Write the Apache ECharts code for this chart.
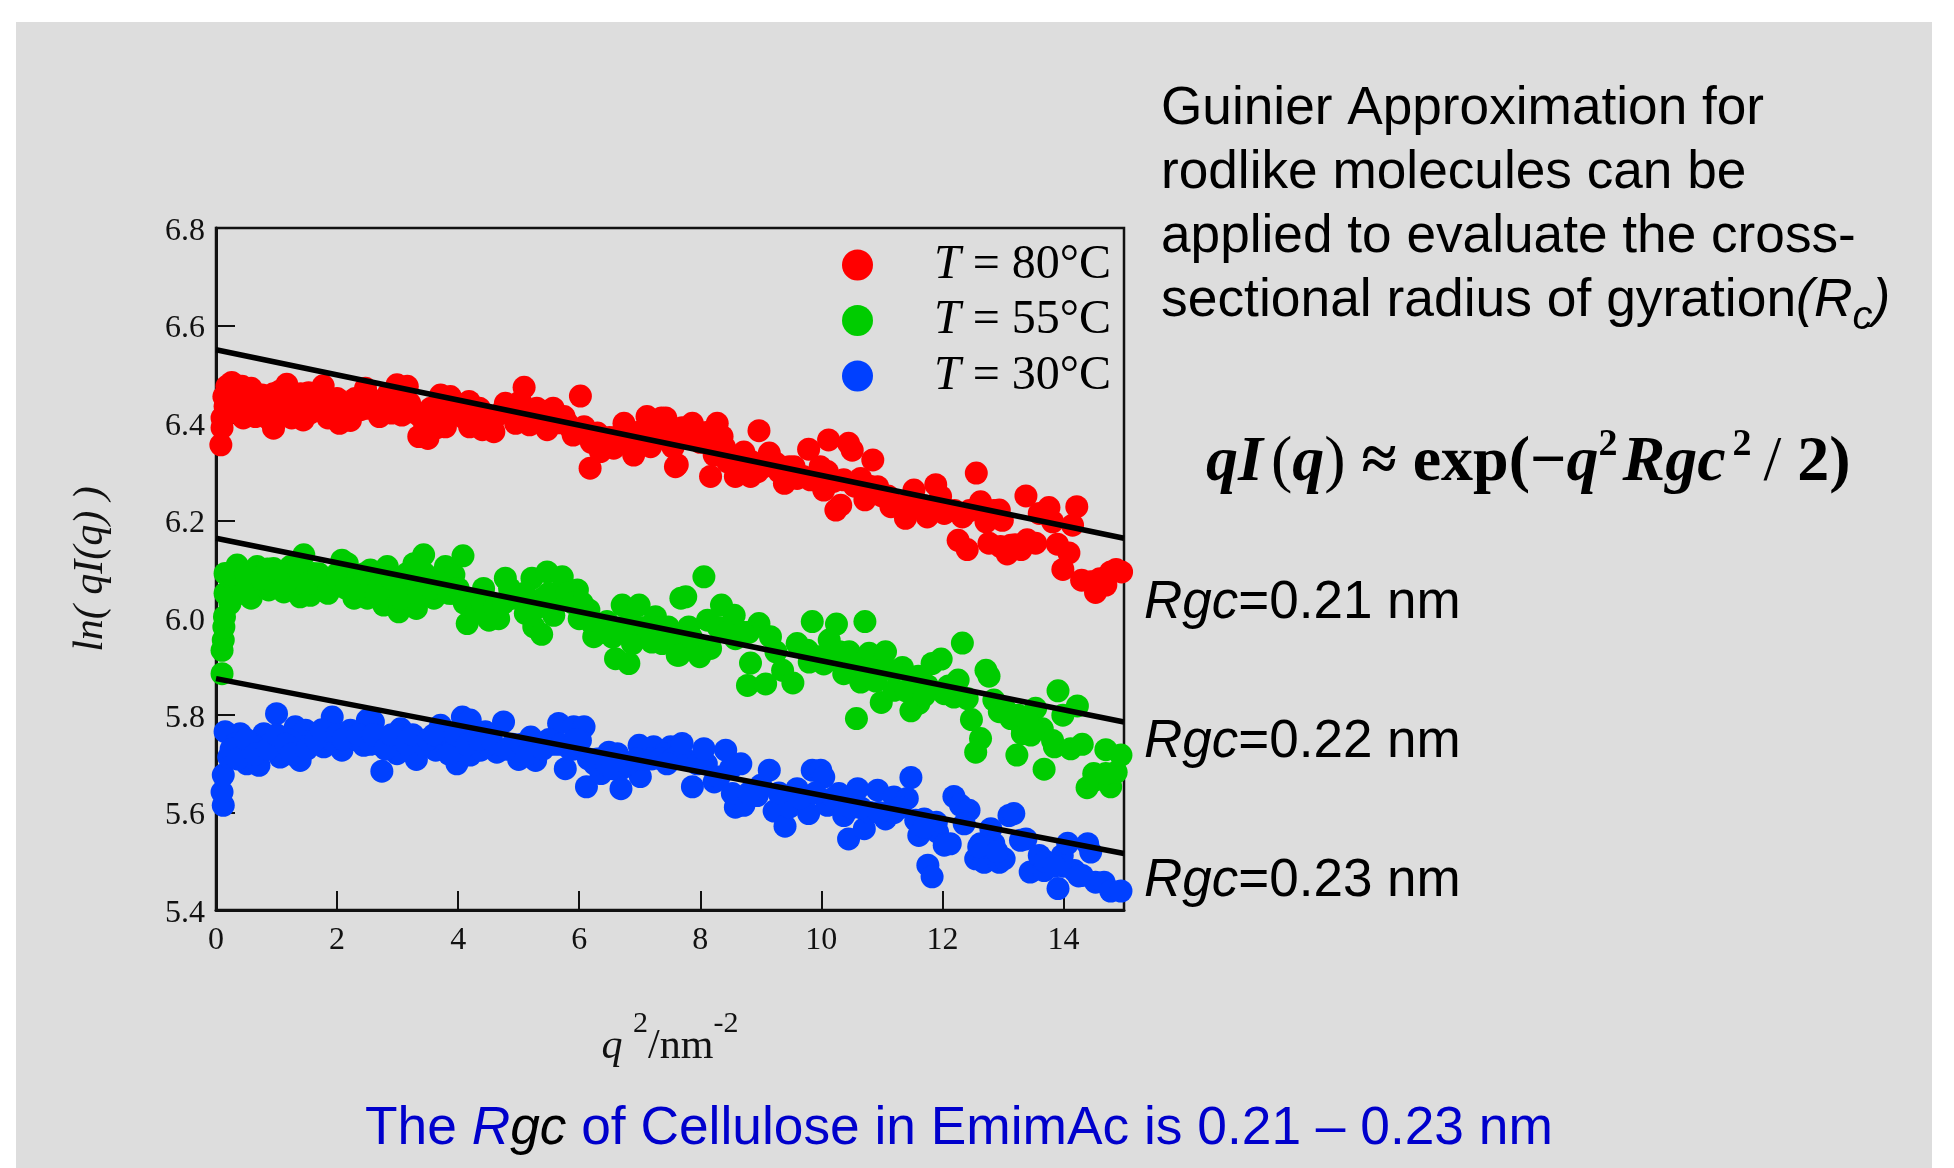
<!DOCTYPE html>
<html>
<head>
<meta charset="utf-8">
<style>html,body{margin:0;padding:0;background:#fff}#c{width:1954px;height:1168px}</style>
<script src="https://cdn.jsdelivr.net/npm/echarts@6/dist/echarts.min.js"></script>
</head>
<body>
<div id="c"></div>
<script>
const xTicks = [0,2,4,6,8,10,12,14];
const yTicks = [5.4,5.6,5.8,6.0,6.2,6.4,6.6,6.8];
const legendNames = ['T = 80°C','T = 55°C','T = 30°C'];
const red80 = [[.08,6.355],[.1,6.39],[.1,6.41],[.13,6.413],[.15,6.434],[.13,6.454],[.18,6.475],[.26,6.483],[.43,6.475],[.58,6.471],[.76,6.457],[.37,6.427],[.65,6.413],[.95,6.389],[1.17,6.479],[1.05,6.465],[1.44,6.406],[1.77,6.476],[1.53,6.462],[2.04,6.399],[2.22,6.405],[2.47,6.471],[2.39,6.427],[2.7,6.413],[2.99,6.478],[3.16,6.475],[3.07,6.416],[3.35,6.372],[3.5,6.368],[3.71,6.457],[3.87,6.454],[3.79,6.392],[4.18,6.444],[4.19,6.392],[4.4,6.386],[4.59,6.382],[4.78,6.44],[5.09,6.473],[5.03,6.444],[4.95,6.399],[5.18,6.396],[5.47,6.386],[5.57,6.43],[5.75,6.413],[6.02,6.455],[5.9,6.375],[6.08,6.392],[6.18,6.307],[6.3,6.379],[6.35,6.341],[6.57,6.348],[6.74,6.399],[6.9,6.334],[7.12,6.413],[7.18,6.351],[7.36,6.41],[7.62,6.314],
[.3,6.45],[.5,6.43],[.8,6.44],[1.0,6.42],[1.3,6.44],[1.6,6.43],[1.9,6.43],[2.2,6.44],[2.5,6.43],[2.8,6.44],[3.1,6.44],[3.4,6.41],[3.6,6.41],[4.0,6.42],[4.3,6.41],[4.6,6.41],[4.9,6.42],[5.2,6.41],[5.5,6.41],[5.8,6.4],[6.5,6.37],[6.8,6.38],[7.0,6.37],[7.3,6.38],[7.5,6.36],[7.8,6.37],[8.0,6.36],
[.25,6.46],[.45,6.41],[.55,6.45],[.85,6.41],[.95,6.46],[1.1,6.44],[1.25,6.41],[1.4,6.46],[1.55,6.42],[1.7,6.45],[1.85,6.41],[2.0,6.45],[2.1,6.42],[2.3,6.45],[2.55,6.45],[2.65,6.44],[2.85,6.46],[2.9,6.42],[3.2,6.44],[3.3,6.42],[3.45,6.39],[3.55,6.43],[3.65,6.39],[3.8,6.42],[3.95,6.44],[4.1,6.41],[4.35,6.43],[4.5,6.4],[4.7,6.42],[4.85,6.43],[5.1,6.42],[5.3,6.43],[5.4,6.41],[5.65,6.4],[5.85,6.39],[6.0,6.38],[6.2,6.36],[6.45,6.35],[6.6,6.37],[6.75,6.37],[6.95,6.38],[7.1,6.36],[7.25,6.39],[7.4,6.38],[7.55,6.35],[7.7,6.39],[7.9,6.37],[8.1,6.38],[8.2,6.36],[8.4,6.35],
[7.43,6.41],[7.59,6.31],[7.67,6.372],[7.87,6.399],[8.17,6.29],[8.28,6.399],[8.36,6.372],[8.23,6.334],[8.58,6.29],[8.83,6.29],[8.72,6.34],[8.97,6.384],[9.14,6.338],[9.25,6.317],[9.39,6.276],[9.47,6.31],[9.6,6.286],[9.79,6.346],[9.98,6.31],[9.82,6.283],[10.12,6.365],[10.45,6.358],[10.51,6.344],[10.04,6.262],[10.24,6.221],[10.32,6.231],[10.37,6.283],[10.65,6.286],[10.85,6.324],[10.72,6.242],[10.93,6.269],[11.15,6.228],[11.39,6.204],[11.53,6.262],[11.75,6.207],[11.89,6.273],[11.97,6.249],[12.03,6.214],[12.33,6.207],[12.56,6.297],[12.63,6.238],[12.72,6.197],[12.94,6.221],[12.99,6.2],[13.38,6.25],[13.6,6.214],[13.76,6.226],[13.82,6.197],[14.15,6.19],[14.22,6.228],
[8.6,6.33],[8.95,6.3],[9.3,6.3],[10.2,6.28],[11.0,6.25],[11.3,6.23],[11.7,6.23],[12.2,6.22],[8.45,6.32],[8.85,6.32],[9.05,6.31],[9.55,6.31],[9.7,6.29],[10.1,6.3],[10.55,6.27],[10.8,6.27],[11.1,6.25],[11.45,6.22],[11.9,6.23],[12.45,6.22],[12.85,6.22],
[12.26,6.159],[12.41,6.14],[12.77,6.153],[13.07,6.131],[12.96,6.146],[13.3,6.14],[13.54,6.153],[13.9,6.151],[14.09,6.133],[13.99,6.099],[14.3,6.077],[14.45,6.074],[14.53,6.052],[14.7,6.067],[14.78,6.094],[14.87,6.099],[14.96,6.094],[13.4,6.16],[13.13,6.149],[13.2,6.15],[14.6,6.08]];
const green55 = [[.1,5.885],[.1,5.933],[.12,5.954],[.13,5.981],[.14,6.002],[.23,6.029],[.15,6.05],[.15,6.091],[.35,6.108],[.29,6.077],[.58,6.04],[.68,6.105],[.95,6.101],[.87,6.057],[1.12,6.053],[1.23,6.105],[1.45,6.129],[1.39,6.043],[1.56,6.046],[1.61,6.091],[1.95,6.064],[2.08,6.118],[2.17,6.111],[2.28,6.04],[2.5,6.04],[2.55,6.098],[2.83,6.105],[2.77,6.026],[3.02,6.012],[2.94,6.057],[3.27,6.111],[3.43,6.129],[3.31,6.019],[3.21,6.064],[3.6,6.04],[3.79,6.105],[3.93,6.088],[4.08,6.127],[4.15,5.988],[4.51,5.995],[4.67,5.998],[4.78,6.081],[4.42,6.06],[5.22,6.081],[5.47,6.094],[5.72,6.084],[5.11,6.009],[5.25,5.981],[5.38,5.966],[5.58,6.005],[5.97,6.057],[6,5.998],[6.16,6.016],[6.24,5.961],[6.46,5.992],[6.6,5.916],[6.82,5.906],[6.71,6.026],[6.99,6.026],[6.88,5.947],[7.26,6.002],[7.37,5.947],[7.47,5.981],[7.62,5.923],[7.68,6.04],
[.4,6.07],[.7,6.07],[1.0,6.07],[1.3,6.08],[1.7,6.07],[2.0,6.09],[2.3,6.08],[2.6,6.06],[3.0,6.08],[3.5,6.08],[3.9,6.05],[4.2,6.03],[4.5,6.03],[4.9,6.04],[5.1,6.05],[5.4,6.04],[5.7,6.04],[6.2,5.99],[6.7,5.98],[7.0,5.98],[7.3,5.98],
[.25,6.09],[.45,6.05],[.5,6.09],[.75,6.08],[.85,6.1],[1.05,6.09],[1.15,6.07],[1.35,6.1],[1.5,6.07],[1.7,6.09],[1.85,6.05],[2.0,6.08],[2.15,6.06],[2.35,6.06],[2.45,6.09],[2.65,6.05],[2.7,6.09],[2.9,6.08],[3.05,6.04],[3.15,6.09],[3.35,6.05],[3.45,6.09],[3.55,6.06],[3.7,6.07],[3.85,6.05],[4.0,6.06],[4.1,6.03],[4.3,6.01],[4.4,6.03],[4.6,6.02],[4.75,6.03],[4.85,6.06],[5.0,6.04],[5.15,6.03],[5.3,6.02],[5.5,6.05],[5.6,6.03],[5.8,6.05],[5.9,6.03],[6.05,6.03],[6.3,5.98],[6.4,5.97],[6.55,5.96],[6.7,5.97],[6.85,5.99],[7.1,5.98],[7.2,5.95],[7.5,5.95],[7.6,5.96],
[7.76,6.043],[8.06,6.084],[7.65,5.923],[7.81,5.981],[7.99,5.92],[8.17,5.937],[8.12,5.995],[8.35,6.026],[8.56,6.005],[8.58,5.957],[8.97,5.988],[9.16,5.961],[8.83,5.907],[8.78,5.861],[9.08,5.864],[9.36,5.892],[9.53,5.866],[9.6,5.947],[9.77,5.933],[9.8,5.909],[10.04,5.905],[9.85,5.992],[10.25,5.987],[10.72,5.992],[10.13,5.954],[10.46,5.93],[10.37,5.885],[10.65,5.868],[10.79,5.927],[11.06,5.93],[10.99,5.826],[10.58,5.793],[11.34,5.898],[11.2,5.851],[11.48,5.809],[11.61,5.824],[11.56,5.858],[11.75,5.861],[11.83,5.906],[11.98,5.915],[12.33,5.948],[12.03,5.844],[12.19,5.837],[12.41,5.834],[12.26,5.872],[12.48,5.791],[12.63,5.752],[12.55,5.724],[12.72,5.892],[12.77,5.88],[12.85,5.831],[12.94,5.807],[13.13,5.793],[13.23,5.718],[13.32,5.762],[13.54,5.814],[13.46,5.759],[13.65,5.772],[13.68,5.689],[13.82,5.748],[13.85,5.735],[13.91,5.85],[13.99,5.8],[14.23,5.819],[14.12,5.731],[14.31,5.74],[14.39,5.651],[14.51,5.666],[14.62,5.673],[14.78,5.653],[14.7,5.729],[14.87,5.683],[14.95,5.718],
[7.9,5.95],[8.3,5.98],[8.8,5.97],[10.3,5.93],[10.7,5.91],[10.95,5.89],[11.2,5.89],[11.6,5.88],[13.3,5.78],[13.5,5.77],[7.85,5.96],[8.45,5.97],[8.7,5.97],[9.25,5.93],[9.95,5.92],[10.55,5.9],[10.9,5.87],[11.4,5.85],[11.7,5.84],[12.1,5.86],[13.05,5.81],[13.25,5.8],[13.4,5.79],[14.5,5.68],[14.7,5.68]];
const blue30 = [[.12,5.615],[.1,5.642],[.12,5.677],[.15,5.766],[.21,5.714],[.4,5.762],[.51,5.7],[.71,5.697],[.79,5.762],[1,5.803],[1.06,5.714],[1.31,5.776],[1.39,5.707],[1.48,5.769],[1.78,5.735],[1.92,5.796],[2.08,5.728],[2.22,5.769],[2.5,5.79],[2.6,5.786],[2.44,5.738],[2.74,5.685],[2.99,5.721],[3.05,5.772],[3.31,5.709],[3.63,5.728],[3.71,5.779],[4.07,5.796],[4.2,5.79],[3.98,5.7],[4.2,5.718],[4.37,5.728],[4.45,5.766],[4.64,5.724],[4.75,5.786],[5,5.709],[5.2,5.755],[5.28,5.707],[5.66,5.783],[5.77,5.69],[5.91,5.776],[6.08,5.776],[6.02,5.748],[6.12,5.653],[6.36,5.68],[6.49,5.724],[6.63,5.721],[6.69,5.649],[7.01,5.674],[6.99,5.738],[7.23,5.735],[7.48,5.704],[7.51,5.735],
[.3,5.74],[.6,5.74],[.9,5.74],[1.2,5.75],[1.6,5.75],[1.9,5.75],[2.3,5.75],[2.7,5.74],[3.0,5.75],[3.4,5.74],[3.8,5.74],[4.1,5.75],[4.5,5.74],[4.9,5.74],[5.3,5.74],[5.6,5.74],[5.9,5.73],[6.3,5.71],[6.7,5.69],[7.1,5.71],[7.4,5.72],
[.25,5.73],[.35,5.71],[.5,5.75],[.65,5.72],[.85,5.73],[1.0,5.76],[1.15,5.74],[1.25,5.72],[1.5,5.73],[1.65,5.75],[1.75,5.77],[2.0,5.76],[2.1,5.75],[2.35,5.76],[2.55,5.74],[2.6,5.76],[2.8,5.73],[2.9,5.76],[3.15,5.74],[3.25,5.76],[3.5,5.75],[3.6,5.76],[3.85,5.72],[3.95,5.76],[4.15,5.74],[4.35,5.75],[4.55,5.75],[4.8,5.73],[5.05,5.74],[5.15,5.72],[5.4,5.73],[5.5,5.75],[5.7,5.74],[5.85,5.73],[5.95,5.75],[6.15,5.71],[6.25,5.7],[6.45,5.7],[6.55,5.69],[6.8,5.7],[6.95,5.71],[7.2,5.71],[7.35,5.71],[7.55,5.71],[7.75,5.71],[7.95,5.7],[8.1,5.7],[8.5,5.69],
[7.45,5.7],[7.7,5.742],[8.06,5.731],[7.87,5.653],[8.23,5.663],[8.31,5.673],[8.42,5.728],[8.67,5.7],[8.58,5.611],[8.72,5.615],[8.53,5.639],[8.94,5.635],[9,5.656],[9.14,5.687],[9.22,5.603],[9.4,5.572],[9.47,5.611],[9.6,5.649],[9.79,5.598],[9.85,5.687],[9.99,5.687],[10.04,5.673],[10.1,5.615],[10.29,5.639],[10.37,5.594],[10.45,5.546],[10.71,5.567],[10.6,5.649],[10.93,5.646],[11.06,5.587],[11.2,5.632],[11.42,5.629],[11.48,5.672],[11.56,5.584],[11.61,5.553],[11.7,5.587],[11.76,5.492],[11.83,5.468],[11.92,5.56],[12.03,5.533],[12.13,5.536],[12.19,5.633],[12.3,5.615],[12.44,5.605],[12.36,5.577],[12.55,5.505],[12.69,5.498],[12.63,5.536],[12.8,5.567],[12.85,5.536],[12.94,5.498],[13.02,5.505],[13.1,5.594],[13.18,5.598],[13.29,5.543],[13.38,5.546],[13.45,5.478],[13.6,5.512],[13.68,5.481],[13.91,5.444],[13.98,5.512],[14.07,5.537],[14.18,5.481],[14.31,5.471],[14.4,5.536],[14.45,5.519],[14.53,5.457],[14.67,5.457],[14.78,5.439],[14.95,5.439],
[9.3,5.64],[9.9,5.64],[10.5,5.61],[10.8,5.6],[11.2,5.6],[11.9,5.58],[12.7,5.53],[13.7,5.5],[14.0,5.49],[8.8,5.64],[9.65,5.63],[10.2,5.63],[10.65,5.61],[10.95,5.6],[11.3,5.61],[11.7,5.57],[12.6,5.53],[12.9,5.52],[13.85,5.49],[14.25,5.47]];
const fit80 = [[0,6.55],[15,6.163]];
const fit55 = [[0,6.163],[15,5.786]];
const fit30 = [[0,5.875],[15,5.516]];
const sideLines = ['Guinier Approximation for','rodlike molecules can be','applied to evaluate the cross-'];
const rgcLabels = ['0.21','0.22','0.23'];

const serif = '"Liberation Serif"', sans = '"Liberation Sans"';
const ink = '#000';
const pts = (name,data,color)=>({type:'scatter',name,data,symbol:'circle',symbolSize:23,clip:false,itemStyle:{color,opacity:1},silent:true,z:2});
const fit = (data)=>({type:'line',data,symbol:'none',clip:false,lineStyle:{color:'#000',width:5.5},silent:true,z:3});
const txt = (left,top,style)=>({type:'text',left,top,style:Object.assign({fill:ink,font:'53.2px '+sans,textVerticalAlign:'top'},style),z:10,silent:true});

const chart = echarts.init(document.getElementById('c'),null,{renderer:'canvas'});
chart.setOption({
  animation:false,
  backgroundColor:'#fff',
  grid:{show:true,borderColor:'#111',borderWidth:2.5,left:216,right:830,top:228,bottom:258,containLabel:false},
  xAxis:{type:'value',min:0,max:15,interval:2,
    axisLine:{show:true,onZero:false,lineStyle:{color:'#111',width:3}},
    axisTick:{show:true,inside:true,length:19,lineStyle:{color:'#111',width:2},customValues:xTicks},
    axisLabel:{fontFamily:serif,fontSize:32,color:'#111',margin:15,customValues:xTicks},
    splitLine:{show:false},
    name:'{q|q }{s|2}{n|/nm}{s|-2}',nameLocation:'middle',nameGap:99,
    nameTextStyle:{rich:{q:{fontFamily:serif,fontStyle:'italic',fontSize:42,color:'#111'},
      n:{fontFamily:serif,fontSize:42,color:'#111'},
      s:{fontFamily:serif,fontSize:30,color:'#111',padding:[0,0,46,0]}}}},
  yAxis:{type:'value',min:5.4,max:6.8,interval:0.2,
    axisLine:{show:true,onZero:false,lineStyle:{color:'#111',width:3}},
    axisTick:{show:true,inside:true,length:19,lineStyle:{color:'#111',width:2},customValues:yTicks},
    axisLabel:{fontFamily:serif,fontSize:32,color:'#111',margin:11,verticalAlign:'top',lineHeight:7,formatter:v=>v.toFixed(1),customValues:yTicks},
    splitLine:{show:false},
    name:'ln( qI(q) )',nameLocation:'middle',nameGap:104,nameRotate:90,
    nameTextStyle:{fontFamily:serif,fontStyle:'italic',fontSize:42,color:'#111'}},
  legend:{show:true,orient:'vertical',left:837,top:236,itemWidth:31,itemHeight:31,itemGap:7.5,icon:'circle',
    data:legendNames,selectedMode:false,
    formatter:n=>'{i|T}{t|'+n.slice(1)+'}',
    textStyle:{rich:{i:{fontFamily:serif,fontStyle:'italic',fontSize:48,color:'#000',lineHeight:31,padding:[0,0,0,56]},
      t:{fontFamily:serif,fontSize:48,color:'#000',lineHeight:31}}}},
  series:[pts(legendNames[0],red80,'#ff0000'),pts(legendNames[1],green55,'#00cc00'),pts(legendNames[2],blue30,'#0040ff'),fit(fit80),fit(fit55),fit(fit30)],
  graphic:{elements:[
    {type:'rect',left:16,top:22,shape:{width:1916,height:1146},style:{fill:'#dddddd'},z:-10,silent:true},
    ...sideLines.map((s,i)=>txt(1161,83+64*i,{text:s})),
    {type:'text',left:1161,top:275,z:10,silent:true,style:{fill:ink,text:'{a|sectional radius of gyration}{b|(R}{c|c}{b|)}',
      rich:{a:{font:'53.4px '+sans,fill:ink},b:{font:'italic 53.4px '+sans,fill:ink},c:{font:'italic 40px '+sans,fill:ink,padding:[32,0,0,0]}}}},
    {type:'text',left:1206,top:426,z:10,silent:true,style:{fill:'#000',
      text:'{q|qI}{p|(}{q|q}{r|) }{b|≈ exp(−}{q|q}{s|2}{g|Rgc}{u|2}{v|/ }{b|2)}',
      rich:{q:{font:'italic bold 64px '+serif,fill:'#000'},g:{font:'italic bold 64px '+serif,fill:'#000',padding:[0,0,0,5]},
        r:{font:'64px '+serif,fill:'#000'},p:{font:'64px '+serif,fill:'#000',padding:[0,0,0,8]},
        v:{font:'64px '+serif,fill:'#000',padding:[0,0,0,12]},b:{font:'bold 64px '+serif,fill:'#000'},
        s:{font:'bold 38px '+serif,fill:'#000',padding:[0,0,36,0]},u:{font:'bold 38px '+serif,fill:'#000',padding:[0,0,36,7]}}}},
    ...rgcLabels.map((v,i)=>({type:'text',left:1144,top:[577,716,855][i],z:10,silent:true,style:{fill:ink,
      text:'{i|Rgc}{t|='+v+' nm}',rich:{i:{font:'italic 53px '+sans,fill:ink},t:{font:'53px '+sans,fill:ink}}}})),
    {type:'text',left:365,top:1103,z:10,silent:true,style:{fill:'#0000cc',
      text:'{t|The }{r|R}{g|gc}{t| of Cellulose in EmimAc is 0.21 – 0.23 nm}',
      rich:{t:{font:'53.3px '+sans,fill:'#0000cc'},r:{font:'italic 53.3px '+sans,fill:'#0000cc'},g:{font:'italic 53.3px '+sans,fill:'#000'}}}}
  ]}
});
</script>
</body>
</html>
